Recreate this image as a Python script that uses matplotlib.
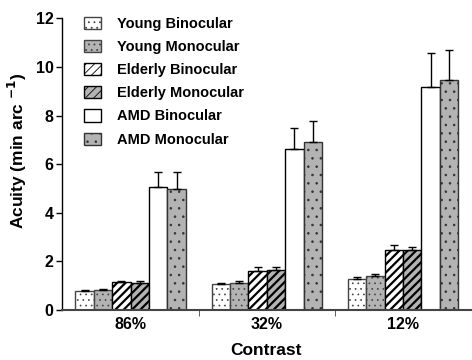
import numpy as np
import matplotlib.pyplot as plt

plt.rcParams['font.family'] = ['Liberation Sans', 'DejaVu Sans']
plt.rcParams['font.weight'] = 'bold'
plt.rcParams['mathtext.default'] = 'bf'

contrasts = ['86%', '32%', '12%']
series = ['Young Binocular', 'Young Monocular', 'Elderly Binocular',
          'Elderly Monocular', 'AMD Binocular', 'AMD Monocular']

# mean acuity per contrast level (86%, 32%, 12%)
young_bin = [0.79, 1.08, 1.28]
young_mon = [0.83, 1.12, 1.39]
eld_bin = [1.14, 1.59, 2.47]
eld_mon = [1.12, 1.66, 2.47]
amd_bin = [5.05, 6.61, 9.18]
amd_mon = [4.99, 6.92, 9.45]

# upper error bars
young_bin_err = [0.03, 0.04, 0.07]
young_mon_err = [0.03, 0.06, 0.07]
eld_bin_err = [0.06, 0.17, 0.20]
eld_mon_err = [0.07, 0.12, 0.13]
amd_bin_err = [0.62, 0.87, 1.38]
amd_mon_err = [0.68, 0.85, 1.25]

means = [young_bin, young_mon, eld_bin, eld_mon, amd_bin, amd_mon]
errs = [young_bin_err, young_mon_err, eld_bin_err, eld_mon_err, amd_bin_err, amd_mon_err]

grey = '#b3b3b3'
styles = [
    dict(facecolor='white', hatch='...', edgecolor='#444444'),
    dict(facecolor=grey, hatch='...', edgecolor='#444444'),
    dict(facecolor='white', hatch='////', edgecolor='black'),
    dict(facecolor=grey, hatch='////', edgecolor='black'),
    dict(facecolor='white', hatch='', edgecolor='black'),
    dict(facecolor=grey, hatch='..', edgecolor='#333333'),
]
hatch_lw = [0.5, 0.5, 1.6, 1.6, 1.0, 0.6]

fig = plt.figure(figsize=(4.72, 3.6), dpi=100)
ax = fig.add_axes([0.131, 0.139, 0.867, 0.81])

x = np.arange(len(contrasts))
w = 0.135
for i in range(6):
    plt.rcParams['hatch.linewidth'] = hatch_lw[i]
    pos = x + (i - 2.5) * w
    bars = ax.bar(pos, means[i], w, label=series[i], linewidth=1.0, **styles[i])
    for b in bars:
        if hasattr(b, 'set_hatch_linewidth'):
            b.set_hatch_linewidth(hatch_lw[i])
    ax.errorbar(pos, means[i], yerr=[np.zeros(3), errs[i]], fmt='none',
                ecolor='black', elinewidth=1.0, capsize=3, capthick=1.0)

ax.set_xlim(-0.505, 2.5)
ax.set_ylim(0, 12)
ax.set_yticks([0, 2, 4, 6, 8, 10, 12])
ax.set_xticks(x)
ax.set_xticklabels(contrasts, fontsize=11.5, fontweight='bold')
ax.set_xticks([0.5, 1.5], minor=True)
ax.tick_params(axis='x', which='major', length=0, pad=5)
ax.tick_params(axis='x', which='minor', length=4, direction='out', color='#444444')
ax.tick_params(axis='y', labelsize=11.5, length=4, width=1, pad=2)
for lab in ax.get_yticklabels():
    lab.set_fontweight('bold')

ax.spines['top'].set_visible(False)
ax.spines['right'].set_visible(False)
ax.spines['bottom'].set_color('#444444')
ax.spines['bottom'].set_linewidth(1.5)
ax.spines['left'].set_linewidth(1.0)

ax.set_xlabel('Contrast', fontsize=12.5, fontweight='bold', labelpad=8)
ax.set_ylabel('Acuity (min arc $^{-1}$)', fontsize=12.5, fontweight='bold')
ax.yaxis.set_label_coords(-0.08, 0.545)

leg = ax.legend(loc='upper left', bbox_to_anchor=(0.054, 1.005), frameon=False,
                handlelength=1.2, handleheight=0.9, handletextpad=1.1,
                labelspacing=0.62, borderpad=0, borderaxespad=0,
                prop={'weight': 'bold', 'size': 10.5})

fig.savefig('out.png', dpi=100)
